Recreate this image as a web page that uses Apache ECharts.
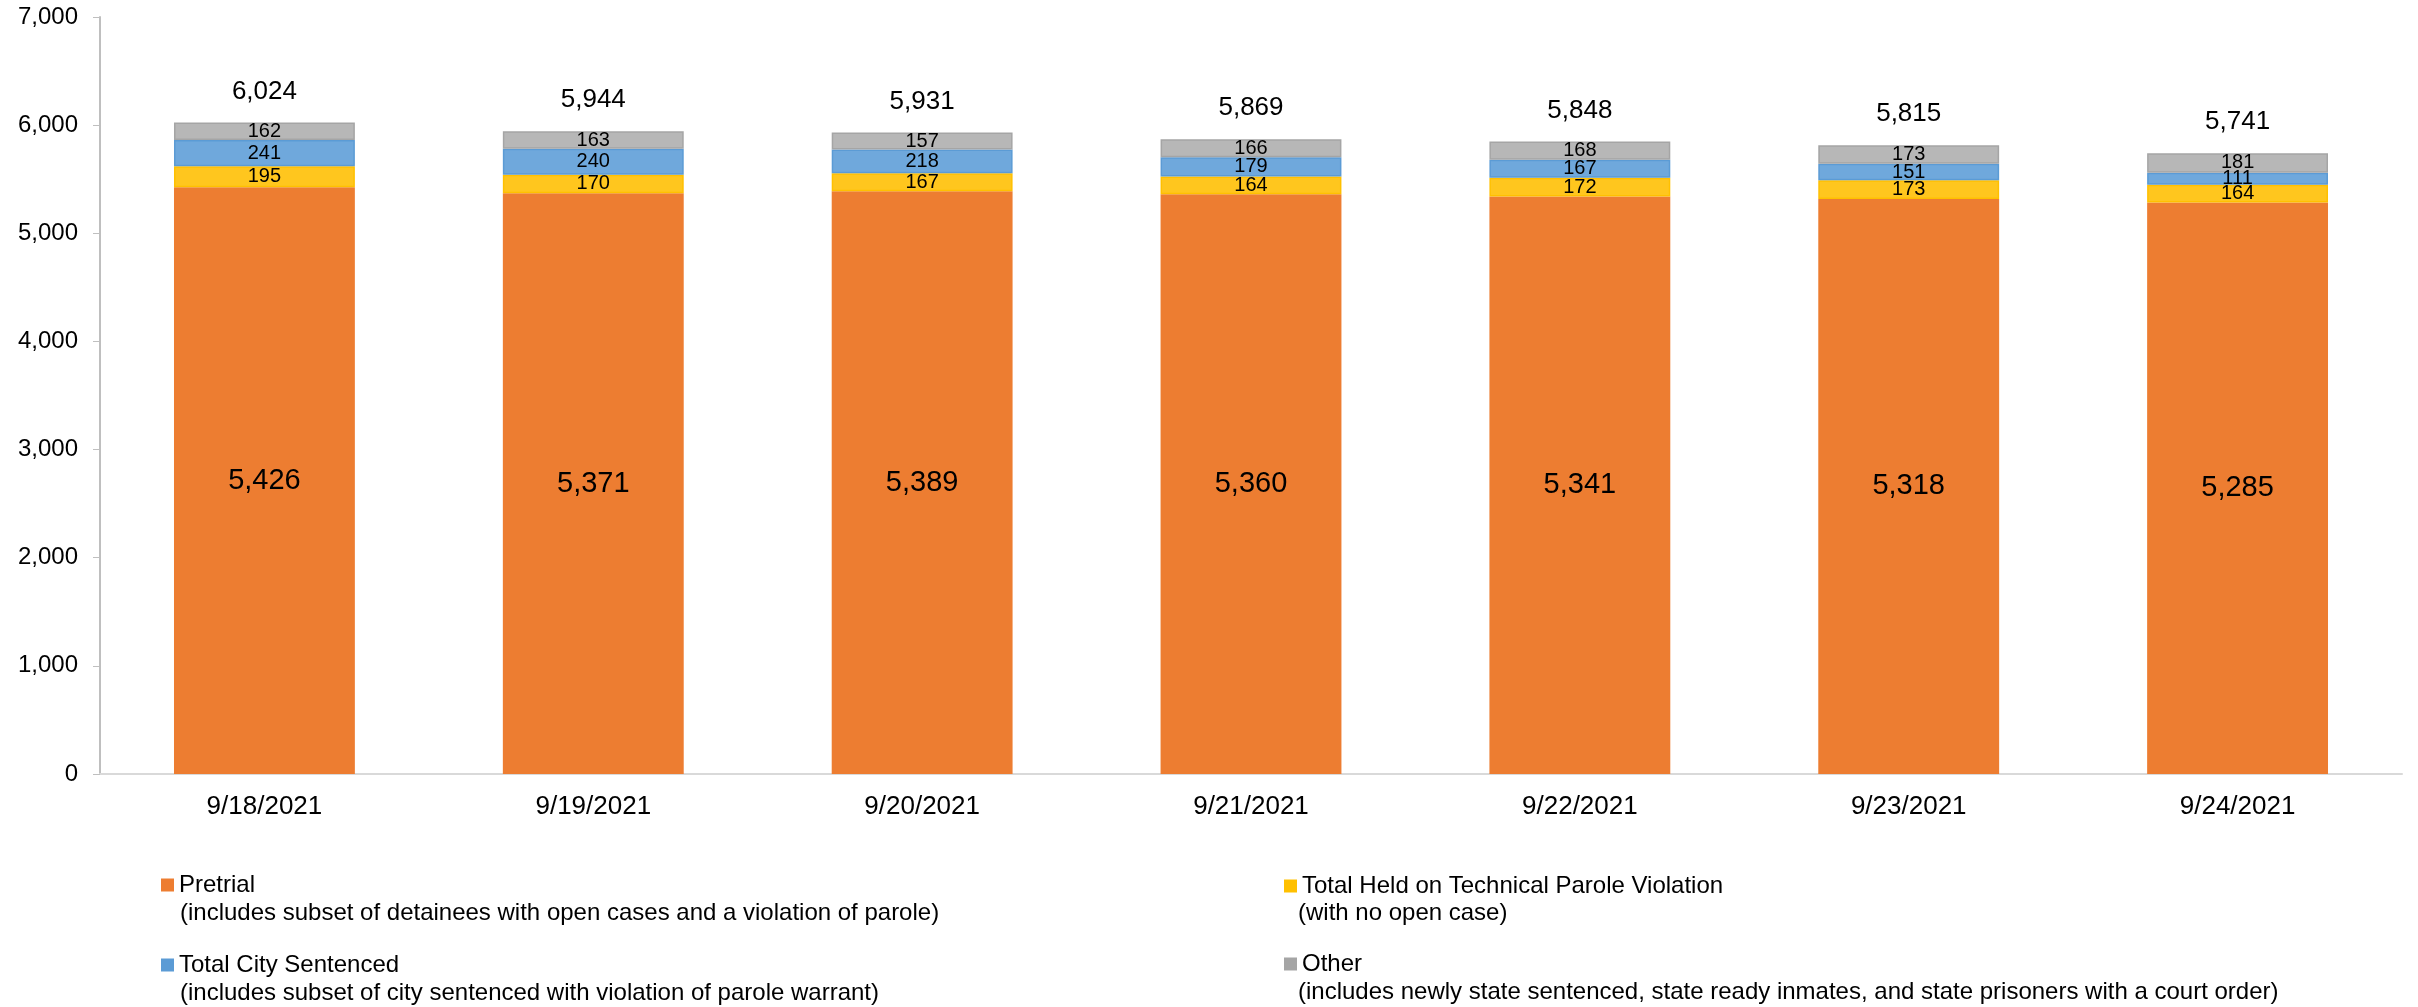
<!DOCTYPE html>
<html>
<head>
<meta charset="utf-8">
<script src="https://cdn.jsdelivr.net/npm/echarts@6/dist/echarts.min.js"></script>
<style>
html,body{margin:0;padding:0;background:#fff;}
#chart{width:2418px;height:1007px;}
</style>
</head>
<body>
<div id="chart"></div>
<script>
const categories = ['9/18/2021','9/19/2021','9/20/2021','9/21/2021','9/22/2021','9/23/2021','9/24/2021'];
const pretrial = [5426, 5371, 5389, 5360, 5341, 5318, 5285];
const technicalParole = [195, 170, 167, 164, 172, 173, 164];
const citySentenced = [241, 240, 218, 179, 167, 151, 111];
const other = [162, 163, 157, 166, 168, 173, 181];
const yTicks = { min: 0, max: 7000, interval: 1000 };

const seriesNames = ['Pretrial', 'Total Held on Technical Parole Violation', 'Total City Sentenced', 'Other'];
const subLines = [
  '(includes subset of detainees with open cases and a violation of parole)',
  '(with no open case)',
  '(includes subset of city sentenced with violation of parole warrant)',
  '(includes newly state sentenced, state ready inmates, and state prisoners with a court order)'
];
const totals = categories.map((c, i) => pretrial[i] + technicalParole[i] + citySentenced[i] + other[i]);

const fmt = v => Number(v).toLocaleString('en-US');
const FONT = '"Liberation Sans", Arial, sans-serif';

const chart = echarts.init(document.getElementById('chart'), null, {renderer: 'canvas'});

function seg(name, data, fill, border, fontSize) {
  return {
    name: name, type: 'bar', stack: 'total', data: data, barWidth: '55%',
    itemStyle: {color: fill, borderColor: border, borderWidth: border ? 1.5 : 0},
    label: {show: true, position: 'inside', color: '#000', fontFamily: FONT, fontSize: fontSize,
            formatter: p => fmt(p.value)},
    emphasis: {disabled: true}
  };
}

function legendItem(name, color, left, top) {
  return {
    data: [{name: name, itemStyle: {color: color, borderWidth: 0}}],
    left: left, top: top, padding: 0, orient: 'horizontal',
    icon: 'rect', itemWidth: 13, itemHeight: 13, itemGap: 0,
    selectedMode: false,
    textStyle: {fontFamily: FONT, fontSize: 24, color: '#000', lineHeight: 28, padding: [0,0,0,0]}
  };
}

function subText(text, x, y) {
  return {type: 'text', x: x, y: y,
          style: {text: text, font: '24px ' + FONT, fill: '#000', verticalAlign: 'middle', align: 'left'}};
}

const option = {
  animation: false,
  backgroundColor: '#fff',
  grid: {left: 100, right: 16, top: 17, bottom: 233, containLabel: false},
  xAxis: {
    type: 'category', data: categories,
    axisLine: {lineStyle: {color: '#d9d9d9', width: 2}},
    axisTick: {show: false},
    axisLabel: {fontFamily: FONT, fontSize: 26, color: '#000', margin: 20}
  },
  yAxis: {
    type: 'value', min: yTicks.min, max: yTicks.max, interval: yTicks.interval,
    axisLine: {show: true, lineStyle: {color: '#bfbfbf', width: 2}},
    axisTick: {show: true, length: 7, lineStyle: {color: '#bfbfbf'}},
    splitLine: {show: false},
    axisLabel: {fontFamily: FONT, fontSize: 24, color: '#000', margin: 22, formatter: v => fmt(v)}
  },
  legend: [
    legendItem(seriesNames[0], '#ed7d31', 161, 871),
    legendItem(seriesNames[1], '#ffc000', 1284, 872),
    legendItem(seriesNames[2], '#5b9bd5', 161, 951),
    legendItem(seriesNames[3], '#a5a5a5', 1284, 950)
  ],
  graphic: [
    subText(subLines[0], 180, 913),
    subText(subLines[1], 1298, 913),
    subText(subLines[2], 180, 993),
    subText(subLines[3], 1298, 992)
  ],
  series: [
    seg(seriesNames[0], pretrial, '#ed7d31', null, 29),
    seg(seriesNames[1], technicalParole, '#ffc61e', '#ffc000', 20),
    seg(seriesNames[2], citySentenced, '#6fa8dc', '#5b9bd5', 20),
    seg(seriesNames[3], other, '#b7b7b7', '#a5a5a5', 20),
    {
      name: 'TotalLabel', type: 'bar', stack: 'total', data: totals.map(() => 0), barWidth: '55%',
      itemStyle: {color: 'transparent'},
      label: {show: true, position: 'top', distance: 18, color: '#000', fontFamily: FONT, fontSize: 26,
              formatter: p => fmt(totals[p.dataIndex])},
      emphasis: {disabled: true}
    }
  ]
};
chart.setOption(option);
</script>
</body>
</html>
